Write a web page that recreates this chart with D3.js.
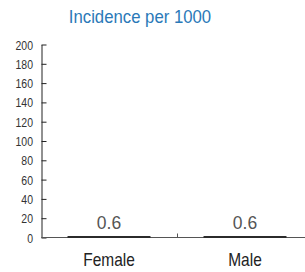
<!DOCTYPE html>
<html>
<head>
<meta charset="utf-8">
<script src="https://cdn.jsdelivr.net/npm/d3@7"></script>
<style>
body { margin: 0; background: #fff; }
svg { display: block; }
text { font-family: "Liberation Sans", Arial, sans-serif; }
</style>
</head>
<body>
<svg width="305" height="272"></svg>
<script>
var categories = ["Female", "Male"];
var values = [0.6, 0.6];
var yTicks = [0, 20, 40, 60, 80, 100, 120, 140, 160, 180, 200];
var title = "Incidence per 1000";

var svg = d3.select("svg");

// scales
var x = d3.scaleBand()
    .domain(categories)
    .range([41, 313])
    .paddingInner(0.39)
    .paddingOuter(0.195);

var y = d3.scaleLinear()
    .domain([0, 200])
    .range([237.5, 44.5]);

// title
svg.append("text")
    .attr("transform", "translate(140,22.5) scale(0.93,1)")
    .attr("text-anchor", "middle")
    .style("font-size", "18px")
    .style("fill", "#2a79b8")
    .text(title);

// y axis
var yAxis = svg.append("g")
    .attr("transform", "translate(41.5,0)")
    .call(d3.axisRight(y).tickValues(yTicks).tickSize(5).tickSizeOuter(0));
yAxis.select(".domain").attr("stroke", "#222");
yAxis.selectAll(".tick line").attr("stroke", "#222");
yAxis.selectAll(".tick text")
    .attr("x", null)
    .attr("dy", null)
    .attr("transform", "translate(-8.5,4.5) scale(0.84,1)")
    .attr("text-anchor", "end")
    .style("font-size", "12.5px")
    .style("fill", "#333");

// x axis
svg.append("line")
    .attr("x1", 41.5).attr("x2", 305)
    .attr("y1", y(0)).attr("y2", y(0))
    .attr("stroke", "#555");
svg.append("line")
    .attr("x1", 177.5).attr("x2", 177.5)
    .attr("y1", y(0)).attr("y2", y(0) - 4)
    .attr("stroke", "#555");

// bars
svg.selectAll("rect.bar")
    .data(values)
    .enter()
    .append("rect")
    .attr("class", "bar")
    .attr("x", function(d, i) { return x(categories[i]); })
    .attr("width", x.bandwidth())
    .attr("y", function(d) { return Math.min(y(d), y(0) - 1.5); })
    .attr("height", function(d) { return Math.max(y(0) - y(d), 1.5) + 0.5; })
    .attr("fill", "#2b2b2b");

// value labels
svg.selectAll("text.val")
    .data(values)
    .enter()
    .append("text")
    .attr("class", "val")
    .attr("x", function(d, i) { return x(categories[i]) + x.bandwidth() / 2; })
    .attr("y", function(d) { return y(d) - 8; })
    .attr("text-anchor", "middle")
    .style("font-size", "17.5px")
    .style("fill", "#555")
    .text(function(d) { return d; });

// category labels
svg.selectAll("text.cat")
    .data(categories)
    .enter()
    .append("text")
    .attr("class", "cat")
    .attr("transform", function(d) {
        return "translate(" + (x(d) + x.bandwidth() / 2) + ",265.5) scale(0.86,1)";
    })
    .attr("text-anchor", "middle")
    .style("font-size", "18px")
    .style("fill", "#222")
    .text(function(d) { return d; });
</script>
</body>
</html>
